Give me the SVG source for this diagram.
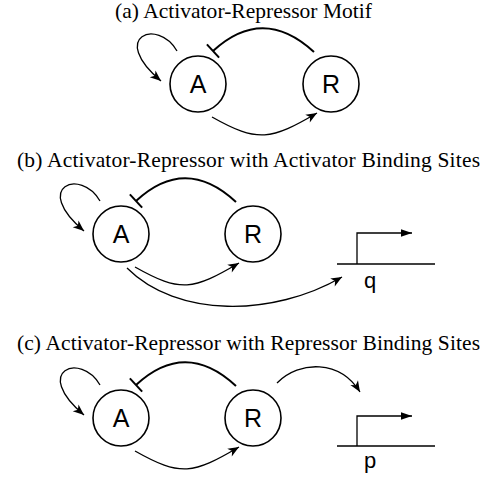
<svg xmlns="http://www.w3.org/2000/svg" width="490" height="477" viewBox="0 0 490 477">
<style>
.title{font-family:"Liberation Serif","Times New Roman",serif;font-size:21.5px;fill:#000}
.node circle{fill:#fff;stroke:#000;stroke-width:1.6}
.node text{font-family:"Liberation Sans",Arial,sans-serif;font-size:25px;fill:#000;text-anchor:middle}
.gene text{font-family:"Liberation Sans",Arial,sans-serif;font-size:22px;fill:#000;text-anchor:middle}
.gene path{fill:none;stroke:#000;stroke-width:1.3}
.act{fill:none;stroke:#000;stroke-width:1.3;marker-end:url(#arr)}
.inh{fill:none;stroke:#000;stroke-width:2;marker-end:url(#bar)}
</style>
<defs>
<marker id="arr" viewBox="-12 -6 14 12" refX="0" refY="0" markerWidth="14" markerHeight="12" markerUnits="userSpaceOnUse" orient="auto">
<path d="M0,0 L-11,-4.5 L-8,0 L-11,4.5 Z" fill="#000"/>
</marker>
<marker id="garr" viewBox="-12 -6 14 12" refX="0" refY="0" markerWidth="14" markerHeight="12" markerUnits="userSpaceOnUse" orient="auto">
<path d="M0,0 L-11,-3.8 L-11,3.8 Z" fill="#000"/>
</marker>
<marker id="bar" viewBox="-2 -10 4 20" refX="0" refY="0" markerWidth="4" markerHeight="20" markerUnits="userSpaceOnUse" orient="auto">
<path d="M0,-9 L0,9" stroke="#000" stroke-width="2"/>
</marker>
</defs>

<g id="titles">
<text class="title" x="115" y="18" textLength="257" lengthAdjust="spacing">(a) Activator-Repressor Motif</text>
<text class="title" x="17" y="167" textLength="463" lengthAdjust="spacing">(b) Activator-Repressor with Activator Binding Sites</text>
<text class="title" x="17" y="350" textLength="463" lengthAdjust="spacing">(c) Activator-Repressor with Repressor Binding Sites</text>
</g>

<g id="connectors">
<!-- panel a -->
<path class="act" d="M177,51 C158,18 108,36 161,81"/>
<path class="inh" d="M314,52 Q263,5 213,51"/>
<path class="act" d="M212,117 C258,143 271,140 317,113"/>
<!-- panel b -->
<path class="act" d="M100,201 C81,168 31,186 84,231"/>
<path class="inh" d="M236,202 Q185.5,155 136,201"/>
<path class="act" d="M135,267 C181,293 193,290 239,263"/>
<path class="act" d="M127,268 C177,318 273,317 342,277"/>
<!-- panel c -->
<path class="act" d="M100,385 C81,352 31,370 84,415"/>
<path class="inh" d="M236,386 Q185.5,339 136,385"/>
<path class="act" d="M135,451 C181,477 193,474 239,447"/>
<path class="act" d="M277,383 C300,360 340,360 360,392"/>
</g>

<g id="nodeA_a" class="node"><circle cx="198" cy="84" r="28"/><text x="198" y="93">A</text></g>
<g id="nodeR_a" class="node"><circle cx="331" cy="84" r="28"/><text x="331" y="93">R</text></g>
<g id="nodeA_b" class="node"><circle cx="121" cy="234" r="28"/><text x="121" y="243">A</text></g>
<g id="nodeR_b" class="node"><circle cx="253" cy="234" r="28"/><text x="253" y="243">R</text></g>
<g id="nodeA_c" class="node"><circle cx="121" cy="418" r="28"/><text x="121" y="427">A</text></g>
<g id="nodeR_c" class="node"><circle cx="253" cy="418" r="28"/><text x="253" y="427">R</text></g>

<g id="gene_q" class="gene">
<path d="M337,264 L435,264"/>
<path d="M357,264 L357,233 L412,233" style="marker-end:url(#garr)"/>
<text x="370" y="288">q</text>
</g>
<g id="gene_p" class="gene">
<path d="M337,446 L435,446"/>
<path d="M357,446 L357,416 L412,416" style="marker-end:url(#garr)"/>
<text x="370" y="468">p</text>
</g>
</svg>
